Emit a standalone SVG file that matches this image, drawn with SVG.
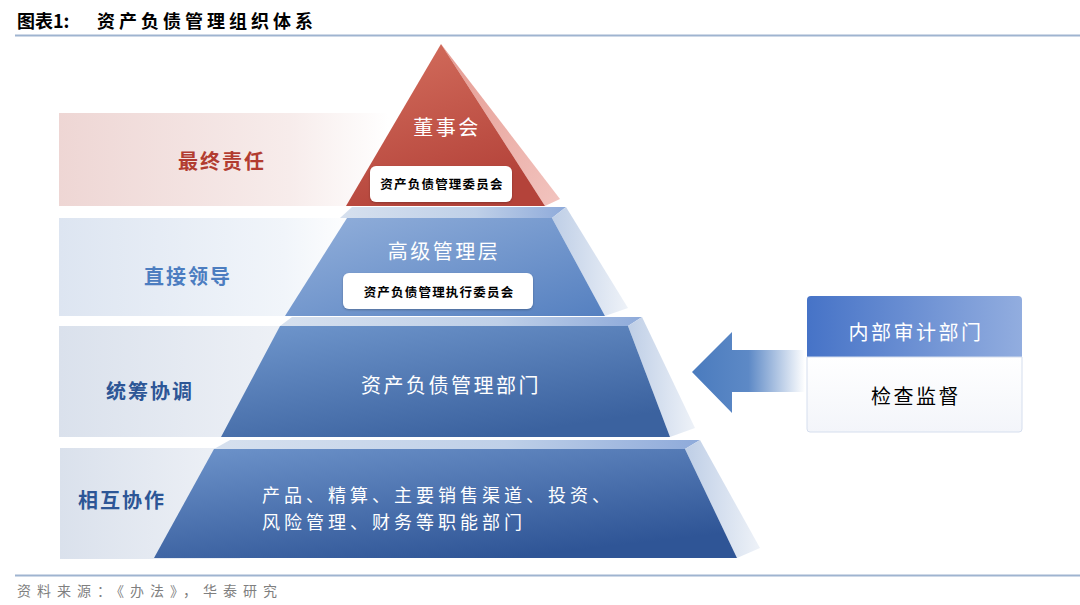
<svg xmlns="http://www.w3.org/2000/svg" width="1080" height="605" viewBox="0 0 1080 605">
<defs>
<linearGradient id="band1" x1="0" y1="0" x2="1" y2="0"><stop offset="0" stop-color="#EED6D4"/><stop offset="0.7" stop-color="#F7ECEB"/><stop offset="1" stop-color="#FFFFFF"/></linearGradient>
<linearGradient id="band2" x1="0" y1="0" x2="1" y2="0"><stop offset="0" stop-color="#DDE5F1"/><stop offset="0.75" stop-color="#F1F5FA"/><stop offset="1" stop-color="#FFFFFF"/></linearGradient>
<linearGradient id="band3" x1="0" y1="0" x2="1" y2="0"><stop offset="0" stop-color="#DAE1EC"/><stop offset="1" stop-color="#EFF2F7"/></linearGradient>
<linearGradient id="red" x1="0" y1="0" x2="0.4" y2="1"><stop offset="0" stop-color="#D5705F"/><stop offset="1" stop-color="#B4433A"/></linearGradient>
<linearGradient id="pink" x1="0" y1="0" x2="1" y2="1"><stop offset="0" stop-color="#E59A91"/><stop offset="1" stop-color="#F2C4BF"/></linearGradient>
<linearGradient id="b2" x1="0" y1="0" x2="1" y2="1"><stop offset="0" stop-color="#93B0DB"/><stop offset="1" stop-color="#5580C0"/></linearGradient>
<linearGradient id="b3" x1="0" y1="0" x2="0.6" y2="1"><stop offset="0" stop-color="#7097CD"/><stop offset="1" stop-color="#3B629F"/></linearGradient>
<linearGradient id="b4" x1="0" y1="0" x2="0.6" y2="1"><stop offset="0" stop-color="#6E94CB"/><stop offset="1" stop-color="#2F5596"/></linearGradient>
<linearGradient id="top" x1="0" y1="0" x2="1" y2="0"><stop offset="0" stop-color="#D6E0EE"/><stop offset="0.6" stop-color="#BFD0E8"/><stop offset="1" stop-color="#8EAADA"/></linearGradient>
<linearGradient id="side" x1="0" y1="0" x2="1" y2="0"><stop offset="0" stop-color="#BECEE6"/><stop offset="1" stop-color="#EEF2F8"/></linearGradient>
<linearGradient id="arrow" x1="0" y1="0" x2="1" y2="0"><stop offset="0" stop-color="#4A7BBE"/><stop offset="0.5" stop-color="#5D89C6"/><stop offset="1" stop-color="#FFFFFF"/></linearGradient>
<linearGradient id="hdr" x1="0" y1="0" x2="1" y2="0"><stop offset="0" stop-color="#4673C7"/><stop offset="1" stop-color="#92ADDF"/></linearGradient>
<linearGradient id="body" x1="0" y1="0" x2="0" y2="1"><stop offset="0" stop-color="#FFFFFF"/><stop offset="1" stop-color="#F3F5FA"/></linearGradient>
<filter id="sh" x="-10%" y="-20%" width="120%" height="150%"><feDropShadow dx="0" dy="1" stdDeviation="1.2" flood-color="#000" flood-opacity="0.25"/></filter>
</defs>
<style>
.cjk{font-family:"Noto Sans CJK SC","Noto Sans",sans-serif;}
.lbl{font-size:20px;letter-spacing:2.5px;text-anchor:middle;}
.wh{fill:#FFFFFF;}
.box{font-size:12.5px;font-weight:bold;fill:#000;text-anchor:middle;letter-spacing:1.2px;}
</style>
<rect width="1080" height="605" fill="#FFFFFF"/>
<g id="title" class="cjk">
<text x="17" y="28" font-size="18" font-weight="bold" fill="#000">图表1:</text>
<text x="97" y="28" font-size="18" font-weight="bold" fill="#000" letter-spacing="4">资产负债管理组织体系</text>
<line x1="15" y1="35.5" x2="1080" y2="35.5" stroke="#9FB4D0" stroke-width="2"/>
</g>
<g id="bands" class="cjk">
<rect x="59" y="113" width="330" height="93" fill="url(#band1)"/>
<rect x="59" y="218" width="300" height="98" fill="url(#band2)"/>
<rect x="59" y="326" width="240" height="111" fill="url(#band3)"/>
<rect x="60" y="448" width="180" height="111" fill="url(#band3)"/>
<text x="222" y="169" font-size="20" font-weight="bold" fill="#B23C30" text-anchor="middle" letter-spacing="2">最终责任</text>
<text x="188" y="284" font-size="20" font-weight="bold" fill="#4C7DC0" text-anchor="middle" letter-spacing="2">直接领导</text>
<text x="150" y="399" font-size="20" font-weight="bold" fill="#2D5696" text-anchor="middle" letter-spacing="2">统筹协调</text>
<text x="122" y="508" font-size="20" font-weight="bold" fill="#2D5696" text-anchor="middle" letter-spacing="2">相互协作</text>
</g>
<g id="level1" class="cjk">
<polygon points="441,44 560,199 545,206" fill="url(#pink)"/>
<polygon points="441,44 545,206 346,206" fill="url(#red)"/>
<text x="447" y="135" class="lbl wh">董事会</text>
<rect x="370" y="166" width="142" height="36" rx="6" fill="#FFFFFF" filter="url(#sh)"/>
<text x="442" y="189" class="box">资产负债管理委员会</text>
</g>
<g id="level2" class="cjk">
<polygon points="340,218 352,207 566,207 552,218" fill="url(#top)"/>
<polygon points="552,218 566,207 628,308 605,316" fill="url(#side)"/>
<polygon points="347,218 552,218 605,316 285,316" fill="url(#b2)"/>
<text x="444" y="259" class="lbl wh">高级管理层</text>
<rect x="343" y="273" width="190" height="36" rx="6" fill="#FFFFFF" filter="url(#sh)"/>
<text x="439" y="297" class="box">资产负债管理执行委员会</text>
</g>
<g id="level3" class="cjk">
<polygon points="280,326 292,317 642,317 628,326" fill="url(#top)"/>
<polygon points="628,326 642,317 695,428 670,437" fill="url(#side)"/>
<polygon points="280,326 628,326 670,437 221,437" fill="url(#b3)"/>
<text x="451" y="393" class="lbl wh">资产负债管理部门</text>
</g>
<g id="level4" class="cjk">
<polygon points="214,449 230,440 700,440 685,449" fill="url(#top)"/>
<polygon points="685,449 700,440 760,548 737,558" fill="url(#side)"/>
<polygon points="214,449 685,449 737,558 154,558" fill="url(#b4)"/>
<text x="262" y="502" font-size="18" letter-spacing="4" class="wh">产品、精算、主要销售渠道、投资、</text>
<text x="262" y="529" font-size="18" letter-spacing="4" class="wh">风险管理、财务等职能部门</text>
</g>
<g id="connectors">
<path d="M692,372 L732,332 L732,350 L805,350 L805,392 L732,392 L732,413 Z" fill="url(#arrow)"/>
</g>
<g id="audit" class="cjk">
<path d="M811,296 H1018 Q1022,296 1022,300 V357 H807 V300 Q807,296 811,296 Z" fill="url(#hdr)"/>
<path d="M807,357 H1022 V429 Q1022,432 1019,432 H810 Q807,432 807,429 Z" fill="url(#body)" stroke="#D5DEEE" stroke-width="1"/>
<text x="916" y="340" class="lbl wh">内部审计部门</text>
<text x="916" y="404" class="lbl" fill="#000">检查监督</text>
</g>
<g id="footer" class="cjk">
<line x1="15" y1="575.5" x2="1080" y2="575.5" stroke="#9FB4D0" stroke-width="2"/>
<text x="17" y="596" font-size="14" fill="#7F7F7F" letter-spacing="6">资料来源：《办法》，华泰研究</text>
</g>
</svg>
